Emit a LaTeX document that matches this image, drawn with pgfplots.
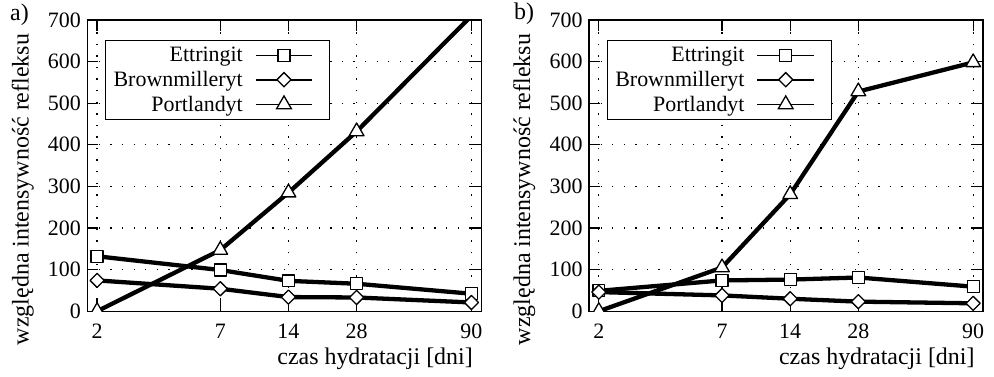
\documentclass[border=0pt]{standalone}
\usepackage{fontspec}
\setmainfont{Liberation Serif}
\usepackage{pgfplots}
\pgfplotsset{compat=1.18}
\begin{document}
\pgfplotsset{
  panel/.style={
    scale only axis, width=395pt, height=292pt,
    xmin=1.81, xmax=99.5, ymin=0, ymax=700,
    xtick={2,7,14,28,90}, xticklabels={2,7,14,28,90},
    ytick={0,100,...,700},
    minor xtick={}, minor ytick={},
    /pgf/number format/assume math mode=true,
    tick align=inside, major tick length=11pt,
    tick style={black, line width=1.2pt},
    axis line style={line width=1.3pt},
    grid=major,
    major grid style={black, line width=1.3pt, dash pattern=on 1.3pt off 10.3pt},
    ticklabel style={font=\fontsize{22}{26}\selectfont},
    yticklabel style={xshift=-3pt},
    xticklabel style={yshift=-9pt},
    xlabel={czas hydratacji [dni]},
    ylabel={względna intensywność refleksu},
    label style={font=\fontsize{24}{28}\selectfont},
    xlabel style={at={(axis description cs:1,0)}, anchor=base east, yshift=-53pt, xshift=-5pt},
    ylabel style={at={(axis description cs:-0.164,0.418)}, anchor=center},
    clip marker paths=true,
    legend style={at={(axis description cs:0.045,0.932)}, anchor=north west,
      draw=black, line width=1.2pt, font=\fontsize{22}{25}\selectfont,
      inner xsep=6pt, inner ysep=5pt, row sep=4pt, column sep=10pt},
    legend cell align=right,
    legend plot pos=right,
    legend image code/.code={\draw[white, line width=0.1pt] (0pt,0pt) -- (68pt,0pt);
      \draw[mark repeat=2,mark phase=2,##1] plot coordinates {(0pt,0pt) (28.5pt,0pt) (57pt,0pt)};},
  },
  ser/.style={black, line width=4.3pt, line join=round},
  legser/.style={black, line width=1.6pt},
  msq/.style={mark=square*, mark size=6pt, mark options={solid, line width=1.3pt, fill=white}},
  mdi/.style={mark=square*, mark size=5pt, mark options={solid, line width=1.3pt, fill=white, rotate=45}},
  mtr/.style={mark=triangle*, mark size=8.5pt, mark options={solid, line width=1.3pt, fill=white}},
}
\begin{tikzpicture}
\useasboundingbox (-85pt,-65pt) rectangle (909pt,312pt);
\begin{axis}[xmode=log, panel, at={(0pt,0pt)}, anchor=south west]
\addplot[ser, msq, forget plot] coordinates {(2,132) (7,99) (14,73) (28,66) (90,42)};
\addplot[ser, mdi, forget plot] coordinates {(2,74) (7,54) (14,34) (28,33) (90,21)};
\addplot[ser, mtr, forget plot] coordinates {(2,0) (7,147) (14,285) (28,432) (90,710)};
\addlegendimage{legser, msq}
\addlegendentry{Ettringit}
\addlegendimage{legser, mdi}
\addlegendentry{Brownmilleryt}
\addlegendimage{legser, mtr}
\addlegendentry{Portlandyt}
\end{axis}
\begin{axis}[xmode=log, panel, at={(503pt,0pt)}, anchor=south west]
\addplot[ser, msq, forget plot] coordinates {(2,49) (7,74) (14,76) (28,81) (90,59)};
\addplot[ser, mdi, forget plot] coordinates {(2,46) (7,38) (14,30) (28,23) (90,19)};
\addplot[ser, mtr, forget plot] coordinates {(2,0) (7,105) (14,281) (28,528) (90,598)};
\addlegendimage{legser, msq}
\addlegendentry{Ettringit}
\addlegendimage{legser, mdi}
\addlegendentry{Brownmilleryt}
\addlegendimage{legser, mtr}
\addlegendentry{Portlandyt}
\end{axis}
\node[font=\fontsize{24}{28}\selectfont] at (-68pt,297pt) {a)};
\node[font=\fontsize{24}{28}\selectfont] at (438pt,298pt) {b)};
\end{tikzpicture}
\end{document}
